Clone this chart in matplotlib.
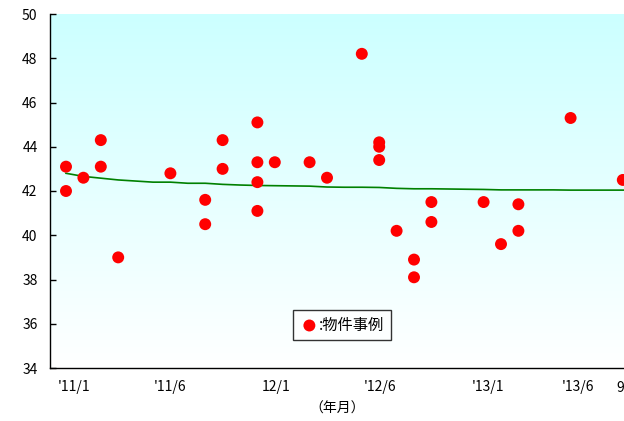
import numpy as np
import matplotlib
matplotlib.use('Agg')
import matplotlib.pyplot as plt
from matplotlib.colors import LinearSegmentedColormap

plt.rcParams['font.family'] = ['Noto Sans CJK JP', 'DejaVu Sans']

# 月インデックス (0 = 2011年1月)
case_month = [0, 0, 1, 2, 2, 3, 6, 8, 8, 9, 9, 11, 11, 11, 11, 12, 14, 15,
              17, 18, 18, 18, 19, 20, 20, 21, 21, 24, 25, 26, 26, 29, 32]
case_value = [43.1, 42.0, 42.6, 44.3, 43.1, 39.0, 42.8, 41.6, 40.5, 44.3, 43.0,
              45.1, 43.3, 42.4, 41.1, 43.3, 43.3, 42.6,
              48.2, 44.2, 44.0, 43.4, 40.2, 38.9, 38.1, 41.5, 40.6,
              41.5, 39.6, 41.4, 40.2, 45.3, 42.5]

# 推移線
trend_month = list(range(0, 35))
trend_value = [42.80, 42.66, 42.58, 42.50, 42.45, 42.40, 42.40, 42.35, 42.35,
               42.30, 42.27, 42.25, 42.24, 42.23, 42.22, 42.18, 42.17, 42.17,
               42.16, 42.12, 42.10, 42.10, 42.09, 42.08, 42.07, 42.05, 42.05,
               42.05, 42.05, 42.04, 42.04, 42.04, 42.04, 42.04, 42.04]

tick_pos = [0.45, 6.0, 12.1, 18.05, 24.25, 29.45, 31.85]
tick_labels = ["'11/1", "'11/6", "12/1", "'12/6", "'13/1", "'13/6", "9"]

fig = plt.figure(figsize=(6.24, 4.21), dpi=100)
W, H = 624, 421
ax = fig.add_axes([50 / W, 53 / H, 610 / W, 354 / H])

xmin, xmax = -16 / 17.4, 594 / 17.4
ymin, ymax = 34, 50

# 背景グラデーション
cmap = LinearSegmentedColormap.from_list('bg', ['#ffffff', '#ccffff'])
grad = np.linspace(0, 1, 256).reshape(-1, 1)
ax.imshow(grad, cmap=cmap, aspect='auto', origin='lower',
          extent=[xmin, xmax, ymin, ymax], zorder=0)

ax.plot(trend_month, trend_value, color='#008000', lw=1.2, zorder=2)
ax.scatter(case_month, case_value, s=74, color='#ff0000', edgecolors='none',
           zorder=3, label=':物件事例', clip_on=False)

ax.set_xlim(xmin, xmax)
ax.set_ylim(ymin, ymax)
ax.set_yticks(np.arange(34, 51, 2))
ax.tick_params(axis='y', direction='in', length=4, width=1, pad=9, labelsize=10)
ax.set_xticks(tick_pos)
ax.set_xticklabels(tick_labels)
ax.tick_params(axis='x', length=0, pad=9, labelsize=10)

for s in ['top', 'right']:
    ax.spines[s].set_visible(False)
for s in ['left', 'bottom']:
    ax.spines[s].set_linewidth(1.0)

ax.set_xlabel('（年月）', fontsize=10)
ax.xaxis.set_label_coords((337 - 50) / 610, -34 / 354)

leg = ax.legend(loc='center', bbox_to_anchor=((342 - 50) / 610, (368 - 325) / 354),
                fontsize=11, frameon=True, fancybox=False, handletextpad=0.0,
                borderpad=0.45, handlelength=1.3, scatterpoints=1)
leg.get_frame().set_edgecolor('black')
leg.get_frame().set_linewidth(1.0)

fig.savefig('out.png', dpi=100)
